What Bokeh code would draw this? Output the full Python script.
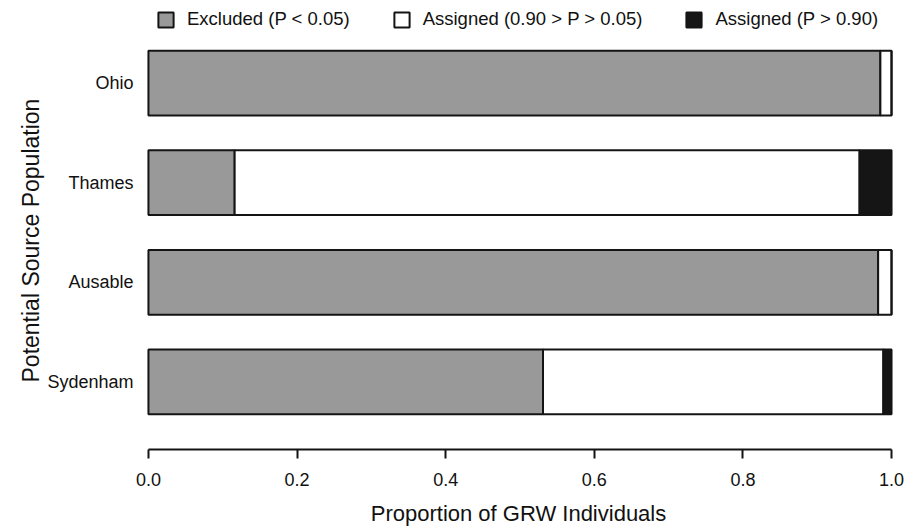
import numpy as np
from bokeh.plotting import figure
from bokeh.models import (Range1d, FixedTicker, NumeralTickFormatter, Legend,
                          LegendItem, ColumnDataSource, Title)
from bokeh.embed import file_html
from bokeh.resources import INLINE

# ---- data ----
groups = ["Ohio", "Thames", "Ausable", "Sydenham"]
excluded = [0.985, 0.116, 0.982, 0.531]
assigned_mid = [0.015, 0.841, 0.018, 0.458]
assigned_high = [0.000, 0.043, 0.000, 0.011]
series_labels = ["Excluded (P < 0.05)", "Assigned (0.90 > P > 0.05)", "Assigned (P > 0.90)"]
x_ticks = [0.0, 0.2, 0.4, 0.6, 0.8, 1.0]

FONT = "Liberation Sans"
EDGE = "#141414"
fills = ["#999999", "#ffffff", "#151515"]

ypos = list(np.arange(len(groups), 0, -1).astype(float))
src = ColumnDataSource(dict(y=ypos, excluded=excluded, mid=assigned_mid,
                            high=assigned_high, group=groups))

p = figure(width=913, height=528, output_backend="svg", toolbar_location=None,
           x_range=Range1d(-0.008, 1.004), y_range=Range1d(0.322, 4.748),
           min_border_left=142, min_border_right=19, min_border_top=8,
           min_border_bottom=76)
p.outline_line_color = None
p.xgrid.visible = False
p.ygrid.visible = False
p.background_fill_color = "white"

rs = p.hbar_stack(["excluded", "mid", "high"], y="y", height=0.65, source=src,
                  fill_color=fills, line_color=EDGE, line_width=2)

legend = Legend(items=[LegendItem(label=lab, renderers=[r]) for lab, r in zip(series_labels, rs)],
                orientation="horizontal", location=(14, 419),
                glyph_width=19, glyph_height=19, label_standoff=12, spacing=42,
                padding=0, margin=0, border_line_color=None,
                background_fill_alpha=0, label_text_font=FONT,
                label_text_font_size="18.5px", label_text_color="#111111")
p.add_layout(legend, "center")

xa = p.xaxis[0]
xa.ticker = FixedTicker(ticks=x_ticks)
xa.formatter = NumeralTickFormatter(format="0.0")
xa.bounds = (0, 1)
xa.axis_line_width = 2
xa.axis_line_color = EDGE
xa.major_tick_line_width = 2
xa.major_tick_line_color = EDGE
xa.major_tick_out = 9
xa.major_tick_in = 0
xa.minor_tick_line_color = None
xa.major_label_standoff = 14
xa.major_label_text_font = FONT
xa.major_label_text_font_size = "18px"
xa.major_label_text_color = "#111111"
xa.axis_label = "Proportion of GRW Individuals"
xa.axis_label_text_font = FONT
xa.axis_label_text_font_size = "22px"
xa.axis_label_text_font_style = "normal"
xa.axis_label_text_color = "#111111"
xa.axis_label_standoff = 12

ya = p.yaxis[0]
ya.ticker = FixedTicker(ticks=ypos)
ya.major_label_overrides = {float(y): g for y, g in zip(ypos, groups)}
ya.axis_line_color = None
ya.major_tick_line_color = None
ya.minor_tick_line_color = None
ya.major_tick_out = 0
ya.major_tick_in = 0
ya.major_label_standoff = 9
ya.major_label_text_font = FONT
ya.major_label_text_font_size = "18px"
ya.major_label_text_color = "#111111"

ytitle = Title(text="Potential Source Population", align="left", offset=67,
               text_font=FONT, text_font_size="23px", text_font_style="normal",
               text_color="#111111", standoff=2)
p.add_layout(ytitle, "left")

open("out.html", "w").write(file_html(p, INLINE))
